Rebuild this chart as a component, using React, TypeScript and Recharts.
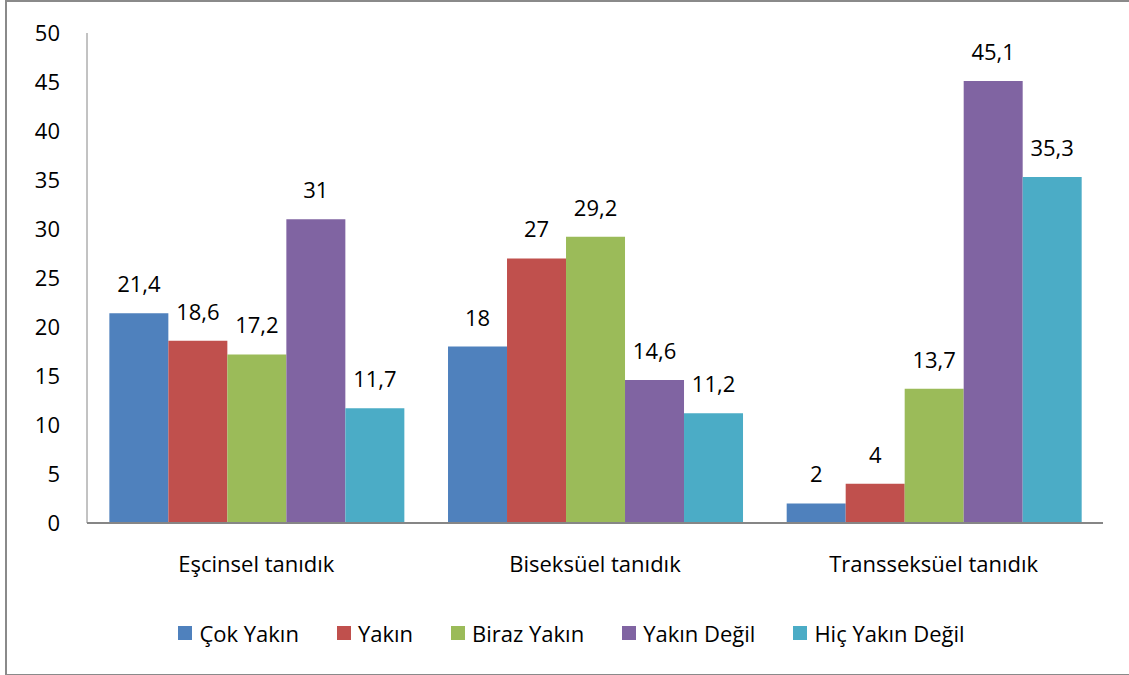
import React from 'react';
import { BarChart, Bar, XAxis, YAxis, LabelList } from 'recharts';

const categories = ['Eşcinsel tanıdık', 'Biseksüel tanıdık', 'Transseksüel tanıdık'];
const seriesNames = ['Çok Yakın', 'Yakın', 'Biraz Yakın', 'Yakın Değil', 'Hiç Yakın Değil'];
const seriesColors = ['#4F81BD', '#C0504D', '#9BBB59', '#8064A2', '#4BACC6'];

const cokYakin = [21.4, 18, 2];
const yakin = [18.6, 27, 4];
const birazYakin = [17.2, 29.2, 13.7];
const yakinDegil = [31, 14.6, 45.1];
const hicYakinDegil = [11.7, 11.2, 35.3];

const yTicks = [0, 5, 10, 15, 20, 25, 30, 35, 40, 45, 50];

const seriesValues = [cokYakin, yakin, birazYakin, yakinDegil, hicYakinDegil];

const data = categories.map((cat, i) => {
    const row: any = { name: cat };
    seriesNames.forEach((s, j) => {
        row['s' + j] = seriesValues[j][i];
    });
    return row;
});

const FONT = '"Open Sans", sans-serif';
const FS = 22;

const fmt = (v: any) => String(v).replace('.', ',');

export default function App() {
    return (
        <div style={{ position: 'absolute', left: 0, top: 0, width: 1129, height: 675, background: '#fff', overflow: 'hidden' }}>
            {/* outer frame */}
            <div style={{ position: 'absolute', left: 5, top: 0, width: 1140, height: 672, borderLeft: '2px solid #8a8a8a', borderTop: '2px solid #8a8a8a', borderBottom: '2px solid #8a8a8a' }} />
            <BarChart
                width={1129}
                height={675}
                data={data}
                margin={{ top: 33, right: 26, bottom: 122, left: 0 }}
                barCategoryGap="6.6%"
                barGap={0}
            >
                <XAxis
                    dataKey="name"
                    height={30}
                    tickLine={false}
                    axisLine={{ stroke: '#868686', strokeWidth: 2 }}
                    tickSize={0}
                    tickMargin={33}
                    tick={{ fill: '#000', fontSize: FS, fontFamily: FONT }}
                    interval={0}
                />
                <YAxis
                    domain={[0, 50]}
                    ticks={yTicks}
                    width={87}
                    tickLine={false}
                    axisLine={{ stroke: '#868686', strokeWidth: 1 }}
                    tickSize={0}
                    tickMargin={27}
                    tick={{ fill: '#000', fontSize: FS, fontFamily: FONT }}
                    interval={0}
                />
                {seriesNames.map((s, j) => (
                    <Bar key={s} dataKey={'s' + j} name={s} fill={seriesColors[j]} isAnimationActive={false}>
                        <LabelList
                            dataKey={'s' + j}
                            position="top"
                            offset={21}
                            formatter={fmt}
                            style={{ fill: '#000', fontSize: FS, fontFamily: FONT }}
                        />
                    </Bar>
                ))}
            </BarChart>
            {/* legend, kept outside the chart so it does not shrink the plot */}
            <div style={{ position: 'absolute', top: 618, left: 7, width: 1129, display: 'flex', justifyContent: 'center', gap: 38, fontFamily: FONT, fontSize: FS, color: '#000' }}>
                {seriesNames.map((s, j) => (
                    <div key={s} style={{ display: 'flex', alignItems: 'center', gap: 7 }}>
                        <span style={{ width: 14, height: 14, background: seriesColors[j], display: 'inline-block' }} />
                        <span>{s}</span>
                    </div>
                ))}
            </div>
        </div>
    );
}
